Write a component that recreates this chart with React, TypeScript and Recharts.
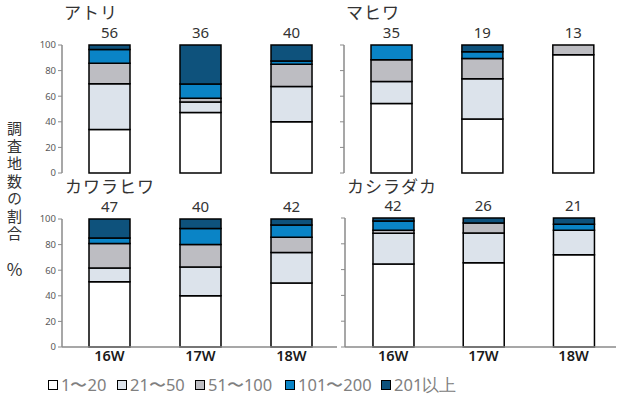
import React from 'react';
import { ComposedChart, Bar, Scatter, XAxis, YAxis, LabelList } from 'recharts';

// Survey weeks and flock-size classes
const weeks = ['16W', '17W', '18W'];
const sizeBins = ['1〜20', '21〜50', '51〜100', '101〜200', '201以上'];
const binColors = ['#ffffff', '#dce3eb', '#bdbdc2', '#0a84c6', '#0e527c'];
const yTicks = [0, 20, 40, 60, 80, 100];

// Number of survey sites per flock-size class, one row per week
const atoriCounts = [
  [19, 20, 9, 6, 2],
  [17, 3, 1, 4, 11],
  [16, 11, 7, 1, 5],
];
const mahiwaCounts = [
  [19, 6, 6, 4, 0],
  [8, 6, 3, 1, 1],
  [12, 0, 1, 0, 0],
];
const kawarahiwaCounts = [
  [24, 5, 9, 2, 7],
  [16, 9, 7, 5, 3],
  [21, 10, 5, 4, 2],
];
const kashiradakaCounts = [
  [27, 10, 1, 3, 1],
  [17, 6, 2, 0, 1],
  [15, 4, 0, 1, 1],
];

const FONT_JP = '"Noto Sans CJK JP", "Noto Sans", sans-serif';
const FONT_NUM = '"Noto Sans", "Open Sans", sans-serif';

function toRows(counts: number[][]) {
  return counts.map((row, i) => {
    const n = row.reduce((a, b) => a + b, 0);
    const rec: Record<string, number | string> = { x: i + 1, week: weeks[i], n };
    let total = 0;
    row.forEach((c, k) => {
      const pct = (c / n) * 100;
      rec['b' + k] = pct;
      total += pct;
    });
    rec.top = total;
    return rec;
  });
}

// Site count written above each stacked column
const TotalLabel = (props: any) => {
  const { x, y, width, height, value } = props;
  const cx = x + (width || 0) / 2;
  const cy = y + (height || 0) / 2;
  return (
    <text
      x={cx}
      y={cy - 7}
      textAnchor="middle"
      fontSize={15}
      fill="#333"
      fontFamily={FONT_NUM}
    >
      {value}
    </text>
  );
};

type PanelProps = {
  title: string;
  counts: number[][];
  left: number;
  top: number;
  width: number;
  height: number;
  margin: { top: number; right: number; left: number; bottom: number };
  yAxisWidth: number;
  showYLabels: boolean;
  xAxisHeight: number;
  showXLabels: boolean;
  xDomain: [number, number];
  titleX: number;
  titleY: number;
};

function Panel(p: PanelProps) {
  const data = toRows(p.counts);
  return (
    <>
      <div
        style={{
          position: 'absolute',
          left: p.titleX,
          top: p.titleY,
          fontFamily: FONT_JP,
          fontSize: 17,
          color: '#333',
          lineHeight: '16px',
          letterSpacing: 1,
          whiteSpace: 'nowrap',
        }}
      >
        {p.title}
      </div>
      <div style={{ position: 'absolute', left: p.left, top: p.top }}>
        <ComposedChart width={p.width} height={p.height} data={data} margin={p.margin} barSize={41}>
          <XAxis
            dataKey="x"
            type="number"
            domain={p.xDomain}
            allowDataOverflow
            ticks={[1, 2, 3]}
            tickFormatter={(v: number) => (p.showXLabels ? weeks[v - 1] : '')}
            height={p.xAxisHeight}
            tick={{ fontSize: 14.5, fill: '#1a1a1a', fontWeight: 600, fontFamily: FONT_NUM }}
            tickLine={false}
            tickSize={0}
            tickMargin={4}
            axisLine={{ stroke: '#8a8a8a', strokeWidth: 1.5 }}
          />
          <YAxis
            type="number"
            domain={[0, 100]}
            ticks={yTicks}
            width={p.yAxisWidth}
            tickFormatter={(v: number) => (p.showYLabels ? String(v) : '')}
            tick={{ fontSize: 9.5, fill: '#595959', fontFamily: FONT_NUM }}
            tickSize={4}
            tickMargin={2}
            tickLine={{ stroke: '#8a8a8a' }}
            axisLine={{ stroke: '#8a8a8a', strokeWidth: 1.5 }}
          />
          {sizeBins.map((name, k) => (
            <Bar
              key={name}
              dataKey={'b' + k}
              name={name}
              stackId="s"
              fill={binColors[k]}
              stroke="#000"
              strokeWidth={1.5}
              isAnimationActive={false}
            />
          ))}
          <Scatter
            dataKey="top"
            shape={() => <g />}
            legendType="none"
            isAnimationActive={false}
          >
            <LabelList dataKey="n" content={TotalLabel} />
          </Scatter>
        </ComposedChart>
      </div>
    </>
  );
}

const legendLeft = [48, 117, 195, 285, 381];

export default function App() {
  return (
    <div
      style={{
        position: 'absolute',
        left: 0,
        top: 0,
        width: 617,
        height: 398,
        background: '#fff',
        overflow: 'hidden',
      }}
    >
      <Panel
        title="アトリ"
        counts={atoriCounts}
        left={0}
        top={0}
        width={330}
        height={178}
        margin={{ top: 45, right: 16, left: 22, bottom: 5 }}
        yAxisWidth={40}
        showYLabels
        xAxisHeight={0}
        showXLabels={false}
        xDomain={[0.478, 3.247]}
        titleX={64}
        titleY={4}
      />
      <Panel
        title="マヒワ"
        counts={mahiwaCounts}
        left={330}
        top={0}
        width={287}
        height={178}
        margin={{ top: 45, right: 1, left: 4, bottom: 5 }}
        yAxisWidth={10}
        showYLabels={false}
        xAxisHeight={0}
        showXLabels={false}
        xDomain={[0.478, 3.47]}
        titleX={346}
        titleY={4}
      />
      <Panel
        title="カワラヒワ"
        counts={kawarahiwaCounts}
        left={0}
        top={178}
        width={340}
        height={220}
        margin={{ top: 41, right: 3, left: 22, bottom: 21 }}
        yAxisWidth={40}
        showYLabels
        xAxisHeight={30}
        showXLabels
        xDomain={[0.478, 3.5]}
        titleX={65}
        titleY={178}
      />
      <Panel
        title="カシラダカ"
        counts={kashiradakaCounts}
        left={340}
        top={178}
        width={277}
        height={220}
        margin={{ top: 40, right: 1, left: 0, bottom: 21 }}
        yAxisWidth={5}
        showYLabels={false}
        xAxisHeight={30}
        showXLabels
        xDomain={[0.467, 3.47]}
        titleX={347}
        titleY={178}
      />

      {/* vertical axis title */}
      <div
        style={{
          position: 'absolute',
          left: 6,
          top: 121,
          width: 17,
          writingMode: 'vertical-rl',
          fontFamily: FONT_JP,
          fontSize: 15,
          lineHeight: '17px',
          letterSpacing: 2.5,
          color: '#333',
          whiteSpace: 'nowrap',
        }}
      >
        調査地数の割合
      </div>
      <div
        style={{
          position: 'absolute',
          left: 6,
          top: 259,
          width: 17,
          fontFamily: FONT_JP,
          fontSize: 17,
          lineHeight: '20px',
          color: '#333',
          textAlign: 'center',
        }}
      >
        %
      </div>

      {/* legend */}
      {sizeBins.map((name, k) => (
        <div
          key={name}
          style={{
            position: 'absolute',
            left: legendLeft[k],
            top: 375,
            height: 20,
            display: 'flex',
            alignItems: 'center',
            whiteSpace: 'nowrap',
          }}
        >
          <span
            style={{
              display: 'inline-block',
              width: 8,
              height: 8,
              border: '1.5px solid #000',
              background: binColors[k],
              marginRight: 3,
            }}
          />
          <span
            style={{
              fontFamily: FONT_NUM,
              fontSize: 16.5,
              color: '#808080',
              lineHeight: '20px',
            }}
          >
            {name}
          </span>
        </div>
      ))}
    </div>
  );
}
